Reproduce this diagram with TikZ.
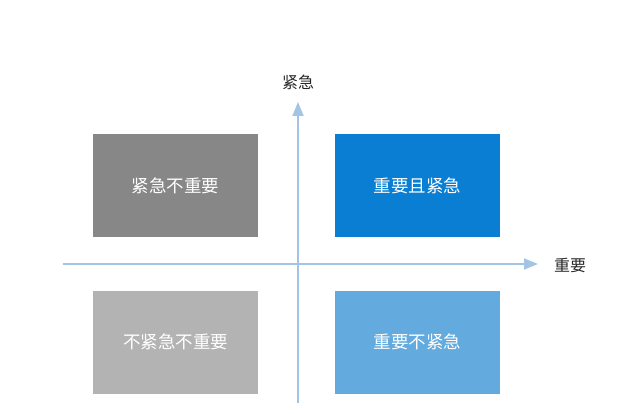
\documentclass[tikz,border=0pt]{standalone}
\usepackage{fontspec}
\newfontfamily\cjk{Noto Sans CJK SC}
\usetikzlibrary{arrows.meta}
\definecolor{darkgray}{HTML}{878787}
\definecolor{lightgray}{HTML}{B3B3B4}
\definecolor{strongblue}{HTML}{0A7ED2}
\definecolor{softblue}{HTML}{63AADF}
\definecolor{axisblue}{HTML}{A3C4E4}
\tikzset{
  quad/.style={minimum width=165pt, minimum height=103pt, inner sep=0pt, text=white, font=\cjk\fontsize{17.5}{19}\selectfont},
  axis/.style={draw=axisblue, line width=1.6pt, -{Triangle[length=14pt,width=11pt]}},
  axlabel/.style={font=\cjk\fontsize{16}{18}\selectfont, text=black!85}
}
\begin{document}
\begin{tikzpicture}[x=1pt,y=-1pt]
\useasboundingbox (0,0) rectangle (640,414);
\node[quad, fill=darkgray] (q1) at (175.5,186) {紧急不重要};
\node[quad, fill=strongblue] (q2) at (417.5,186) {重要且紧急};
\node[quad, fill=lightgray] (q3) at (175.5,342) {不紧急不重要};
\node[quad, fill=softblue] (q4) at (417.5,342) {重要不紧急};
\coordinate (hs) at (63,264);
\coordinate (he) at (538,264);
\coordinate (vs) at (298,403);
\coordinate (ve) at (298,102);
\draw[axis] (hs) -- (he);
\draw[axis] (vs) -- (ve);
\node[axlabel] (ly) at (298,82) {紧急};
\node[axlabel] (lx) at (570,265) {重要};
\end{tikzpicture}
\end{document}
